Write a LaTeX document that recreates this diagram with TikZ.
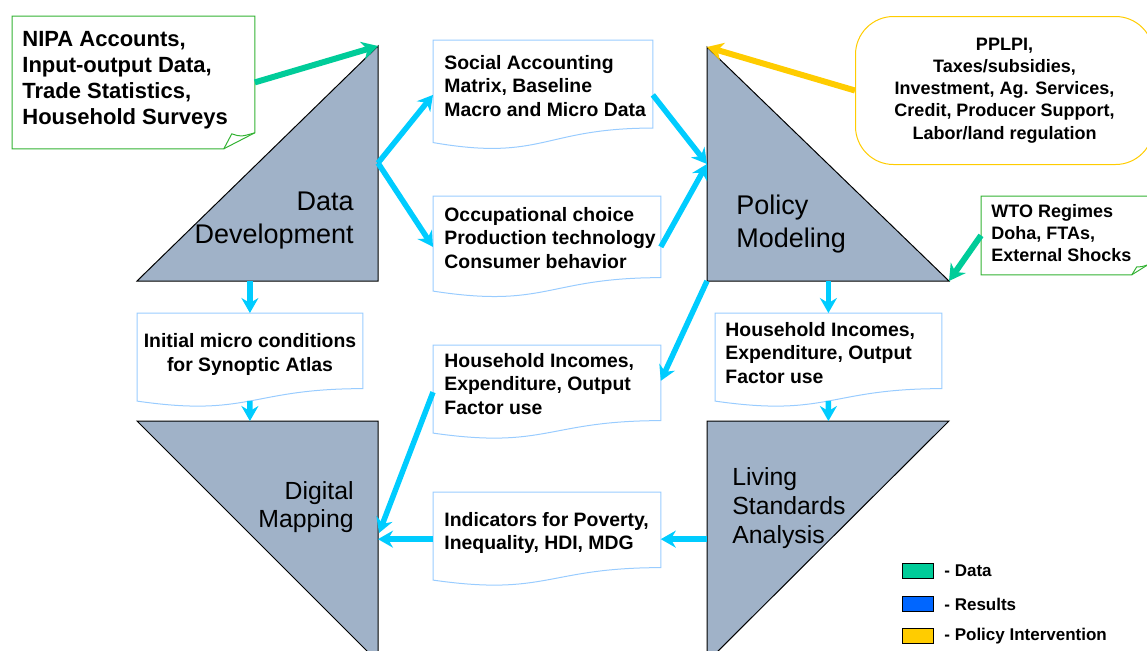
\documentclass[tikz,border=0pt]{standalone}
\usepackage{fontspec}
\setmainfont{Liberation Sans}
\usetikzlibrary{arrows.meta,calc,positioning}

\definecolor{stagefill}{RGB}{160,178,200}
\definecolor{flowcyan}{RGB}{0,204,255}
\definecolor{datagreen}{RGB}{0,204,153}
\definecolor{resultblue}{RGB}{0,102,255}
\definecolor{policyyellow}{RGB}{255,204,0}
\definecolor{docblue}{RGB}{153,204,255}
\definecolor{notegreen}{RGB}{51,178,51}

\tikzset{
  stage/.style={fill=stagefill, draw=black, line width=0.5pt},
  biglabel/.style={font=\fontsize{13.5}{16.5}\selectfont, inner sep=0pt},
  lowlabel/.style={font=\fontsize{12.4}{14.3}\selectfont, inner sep=0pt},
  docbox/.style={anchor=north west, inner sep=0pt},
  docline/.style={draw=docblue, line width=0.5pt},
  noteline/.style={draw=notegreen, line width=0.5pt},
  boxtext/.style={font=\bfseries\fontsize{9.7}{11.6}\selectfont, align=left, inner sep=0pt},
  notetext/.style={font=\bfseries\fontsize{9}{11.1}\selectfont, inner sep=0pt},
  flow/.style={draw=flowcyan, line width=2.75pt, -{Stealth[length=7.5pt,width=8.5pt,inset=2.5pt]}},
  datain/.style={draw=datagreen, line width=3pt, -{Stealth[length=8pt,width=9pt,inset=2.5pt]}},
  policyin/.style={draw=policyyellow, line width=3pt, -{Stealth[length=8pt,width=9pt,inset=2.5pt]}},
  legendkey/.style={draw=black, line width=0.5pt, minimum width=15.5pt, minimum height=7.5pt, inner sep=0pt},
  legendtext/.style={font=\bfseries\fontsize{8.5}{10}\selectfont, inner sep=0pt}
}

\begin{document}
\begin{tikzpicture}[x=0.5pt,y=-0.5pt]
\clip (0,0) rectangle (1147,650);

% the four stages
\coordinate (dd-a) at (378,46);
\coordinate (dd-b) at (378,281);
\coordinate (dd-c) at (137,281);
\coordinate (pm-a) at (707,47);
\coordinate (pm-b) at (707,281);
\coordinate (pm-c) at (949,281);
\coordinate (dm-a) at (137,421);
\coordinate (dm-b) at (378,421);
\coordinate (dm-c) at (378,662);
\coordinate (ls-a) at (707,421);
\coordinate (ls-b) at (949,421);
\coordinate (ls-c) at (707,662);
\draw[stage] (dd-c) -- (dd-a) -- (dd-b) -- cycle;
\draw[stage] (pm-a) -- (pm-b) -- (pm-c) -- cycle;
\draw[stage] (dm-a) -- (dm-b) -- (dm-c) -- cycle;
\draw[stage] (ls-a) -- (ls-b) -- (ls-c) -- cycle;

\node[biglabel, anchor=east, align=right] (ddlabel) at (354,221) {Data\\Development};
\node[biglabel, anchor=west, align=left] (pmlabel) at (736,224) {Policy\\Modeling};
\node[lowlabel, anchor=east, align=right] (dmlabel) at (354,507) {Digital\\Mapping};
\node[lowlabel, anchor=west, align=left] (lslabel) at (732,508) {Living\\Standards\\Analysis};

\coordinate (dd-e) at (378,163);
\coordinate (pm-w) at (707,164);
\coordinate (dm-m) at (379,533);

% document boxes
\node[docbox, minimum width=109.5pt, minimum height=54.5pt] (sam) at (433,40) {};
\node[docbox, minimum width=113.5pt, minimum height=50.5pt] (occ) at (433,196) {};
\node[docbox, minimum width=112.5pt, minimum height=46.75pt] (ini) at (137,313) {};
\node[docbox, minimum width=113.5pt, minimum height=46.75pt] (hhm) at (433,345) {};
\node[docbox, minimum width=113pt, minimum height=46.75pt] (hhr) at (715,313) {};
\node[docbox, minimum width=113.5pt, minimum height=46.75pt] (ind) at (433,492) {};
\foreach \b in {sam,occ,ini,hhm,hhr,ind}
  \draw[docline] (\b.north west) -- (\b.north east)
    -- ($(\b.north east)!0.802!(\b.south east)$)
    .. controls ($(\b.north)!0.802!(\b.south)$) and ($(\b.north)!1.1075!(\b.south)$)
    .. ($(\b.north west)!0.934!(\b.south west)$) -- cycle;

\node[boxtext, anchor=west] (samtext) at (444,86) {Social Accounting\\Matrix, Baseline\\Macro and Micro Data};
\node[boxtext, anchor=west] (occtext) at (444,238) {Occupational choice\\Production technology\\Consumer behavior};
\node[boxtext, align=center] (initext) at (250,354.5) {Initial micro conditions\\for Synoptic Atlas};
\node[boxtext, anchor=west] (hhmtext) at (444,384) {Household Incomes,\\Expenditure, Output\\Factor use};
\node[boxtext, anchor=west] (hhrtext) at (725,353) {Household Incomes,\\Expenditure, Output\\Factor use};
\node[boxtext, anchor=west] (indtext) at (444,533) {Indicators for Poverty,\\Inequality, HDI, MDG};

% inputs
\node[docbox, minimum width=121pt, minimum height=66pt] (nipa) at (12,16) {};
\draw[noteline] (nipa.north west) -- (nipa.north east) -- ($(nipa.south east)+(0,-16)$)
  -- ($(nipa.south east)+(-31,0)$) -- (nipa.south west) -- cycle;
\draw[noteline] ($(nipa.south east)+(-31,0)$) -- ($(nipa.south east)+(-23,-15)$)
  .. controls ($(nipa.south east)+(-14,-12)$) .. ($(nipa.south east)+(0,-16)$);
\node[boxtext, font=\bfseries\fontsize{11}{13}\selectfont, anchor=west] (nipatext) at (22,80)
  {NIPA Accounts,\\Input-output Data,\\Trade Statistics,\\Household Surveys};

\node[docbox, minimum width=83pt, minimum height=39pt] (wto) at (981,196) {};
\draw[noteline] (wto.north west) -- (wto.north east) -- ($(wto.south east)+(0,-10)$)
  -- ($(wto.south east)+(-16,0)$) -- (wto.south west) -- cycle;
\draw[noteline] ($(wto.south east)+(-16,0)$) -- ($(wto.south east)+(-11,-8)$)
  .. controls ($(wto.south east)+(-6,-8)$) .. ($(wto.south east)+(0,-10)$);
\node[notetext, anchor=west, align=left] (wtotext) at (991,233) {WTO Regimes\\Doha, FTAs,\\External Shocks};

\node[docbox, draw=policyyellow, line width=0.5pt, rounded corners=19pt,
  minimum width=149pt, minimum height=74pt, notetext, align=center] (ppl) at (855,16)
  {PPLPI,\\Taxes/subsidies,\\Investment, Ag. Services,\\Credit, Producer Support,\\Labor/land regulation};

% flows
\draw[datain] (nipa.east) -- (dd-a);
\draw[policyin] (ppl.west) -- (pm-a);
\draw[datain] (wto.west) -- (pm-c);

\draw[flow] (dd-e) -- (sam.west);
\draw[flow] (dd-e) -- (occ.west);
\draw[flow] (sam.east) -- (pm-w);
\draw[flow] (occ.east) -- (pm-w);
\draw[flow] (ini.north |- dd-b) -- (ini.north);
\draw[flow] ($(ini.north)!0.933!(ini.south)$) -- (ini.north |- dm-a);
\draw[flow] (pm-b) -- ($(hhm.north east)!0.38!(hhm.south east)$);
\draw[flow] (hhm.west) -- (dm-m);
\draw[flow] (ind.west) -- (ind.west -| dm-b);
\draw[flow] (ind.east -| ls-a) -- (ind.east);
\draw[flow] (hhr.north |- pm-b) -- (hhr.north);
\draw[flow] ($(hhr.north)!0.933!(hhr.south)$) -- (hhr.north |- ls-a);

% legend
\node[legendkey, fill=datagreen, anchor=north west] (lgdata) at (902,563) {};
\node[legendkey, fill=resultblue, below=8.5pt of lgdata] (lgres) {};
\node[legendkey, fill=policyyellow, below=8pt of lgres] (lgpol) {};
\node[legendtext, right=5pt of lgdata] (lgdatatext) {- Data};
\node[legendtext, right=5pt of lgres] (lgrestext) {- Results};
\node[legendtext, right=5pt of lgpol] (lgpoltext) {- Policy Intervention};
\end{tikzpicture}
\end{document}
